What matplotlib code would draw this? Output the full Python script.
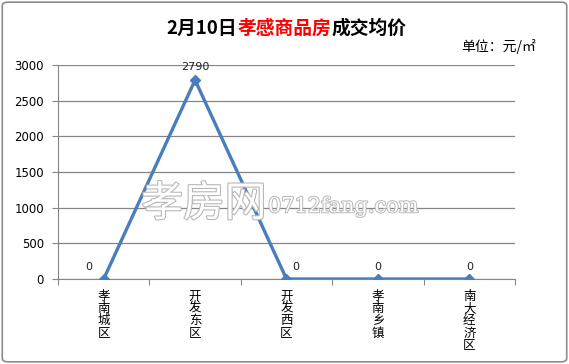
import matplotlib
matplotlib.use("Agg")
import matplotlib.pyplot as plt
import matplotlib.patheffects as pe
from matplotlib.patches import FancyBboxPatch

plt.rcParams["font.family"] = ["Noto Sans CJK SC", "DejaVu Sans"]

categories = ["孝南城区", "开发东区", "开发西区", "孝南乡镇", "南大经济区"]
prices = [0, 2790, 0, 0, 0]
yticks = [0, 500, 1000, 1500, 2000, 2500, 3000]

fig = plt.figure(figsize=(5.69, 3.64), dpi=100)
fig.patch.set_facecolor("white")

# outer border
border = FancyBboxPatch((0.004, 0.006), 0.992, 0.988,
                        boxstyle="round,pad=0,rounding_size=0.01",
                        transform=fig.transFigure, facecolor="none",
                        edgecolor="#8c8c8c", linewidth=1.2)
fig.patches.append(border)

ax = fig.add_axes([0.1019, 0.2335, 0.8032, 0.5879])
x = list(range(len(categories)))
ax.plot(x, prices, "-D", color="#4a7ebb", linewidth=2.4, markersize=5,
        markerfacecolor="#4a7ebb", markeredgecolor="#4a7ebb", zorder=5)

ax.set_xlim(-0.5, len(categories) - 0.5)
ax.set_ylim(0, 3000)
ax.set_yticks(yticks)
ax.set_yticklabels([str(v) for v in yticks], fontsize=8.5,
                   family="DejaVu Sans")
ax.set_xticks([i - 0.5 for i in range(len(categories) + 1)])
ax.set_xticklabels([])
ax.tick_params(axis="x", length=4, color="#868686", direction="out")
ax.tick_params(axis="y", length=4, color="#868686", direction="out", pad=6)
ax.grid(axis="y", color="#868686", linewidth=0.9)
ax.set_axisbelow(True)
for s in ["top", "right"]:
    ax.spines[s].set_visible(False)
ax.spines["left"].set_color("#868686")
ax.spines["bottom"].set_color("#868686")

# vertical category labels, one char per line
for i, c in enumerate(categories):
    ax.text(i, -150, "\n".join(c), ha="center", va="top", fontsize=9,
            linespacing=0.93)

# data labels
label_offsets = [(-11, 5), (0, 6), (7, 5), (0, 5), (0, 5)]
for i, (v, off) in enumerate(zip(prices, label_offsets)):
    ax.annotate(str(v), (i, v), xytext=off, textcoords="offset points",
                ha="center", va="bottom", fontsize=8, family="DejaVu Sans",
                color="#222222")

# watermark
wm = fig.text(0.468, 0.438, "孝房网", fontsize=30, color="white", ha="right",
              va="center", zorder=10)
wm.set_path_effects([pe.withStroke(linewidth=1.6, foreground="#b8b8b8")])
wm2 = fig.text(0.471, 0.432, "0712fang.com", fontsize=15, color="white",
               ha="left", va="center", zorder=10, family="DejaVu Serif")
wm2.set_path_effects([pe.withStroke(linewidth=1.4, foreground="#b8b8b8")])

# title in three colour parts
t1 = fig.text(0.293, 0.922, "2月10日", fontsize=13.5, fontweight="bold",
              ha="left", va="center")
t2 = fig.text(0, 0, "孝感商品房", fontsize=13.5, fontweight="bold",
              color="#ff0000", ha="left", va="bottom")
t3 = fig.text(0, 0, "成交均价", fontsize=13.5, fontweight="bold",
              ha="left", va="bottom")
fig.canvas.draw()
r = fig.canvas.get_renderer()
bb = t1.get_window_extent(r)
fw, fh = fig.bbox.width, fig.bbox.height
t2.set_position((bb.x1 / fw, bb.y0 / fh))
bb2 = t2.get_window_extent(r)
t3.set_position((bb2.x1 / fw, bb2.y0 / fh))

fig.text(0.942, 0.873, "单位：元/㎡", fontsize=10, ha="right", va="center")

fig.savefig("out.png", dpi=100)
